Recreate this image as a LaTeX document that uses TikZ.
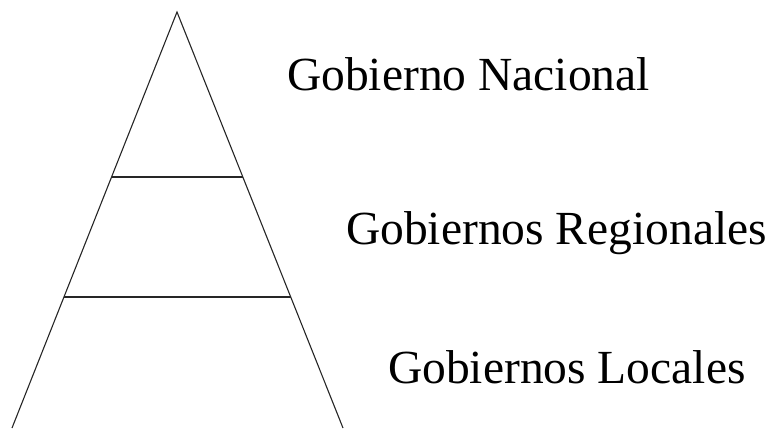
\documentclass[tikz,border=0pt]{standalone}
\usepackage{fontspec}
\setmainfont{Liberation Serif}
\tikzset{
  edge/.style={line width=1.1pt, black!85},
  level/.style={anchor=base west, inner sep=0pt, font=\fontsize{47.5}{56}\selectfont}
}
\begin{document}
\begin{tikzpicture}[x=1pt,y=-1pt]
\useasboundingbox (0,0) rectangle (774,429);
\coordinate (apex) at (177,12);
\coordinate (bl) at (12,428);
\coordinate (br) at (343,428);
\coordinate (a1) at (111.6,177);
\coordinate (b1) at (242.8,177);
\coordinate (a2) at (64,297);
\coordinate (b2) at (290.7,297);
\draw[edge] (bl) -- (apex) -- (br);
\draw[edge] (a1) -- (b1);
\draw[edge] (a2) -- (b2);
\node[level] (nac) at (287,90) {Gobierno Nacional};
\node[level] (reg) at (346,244) {Gobiernos Regionales};
\node[level] (loc) at (388,383) {Gobiernos Locales};
\end{tikzpicture}
\end{document}
